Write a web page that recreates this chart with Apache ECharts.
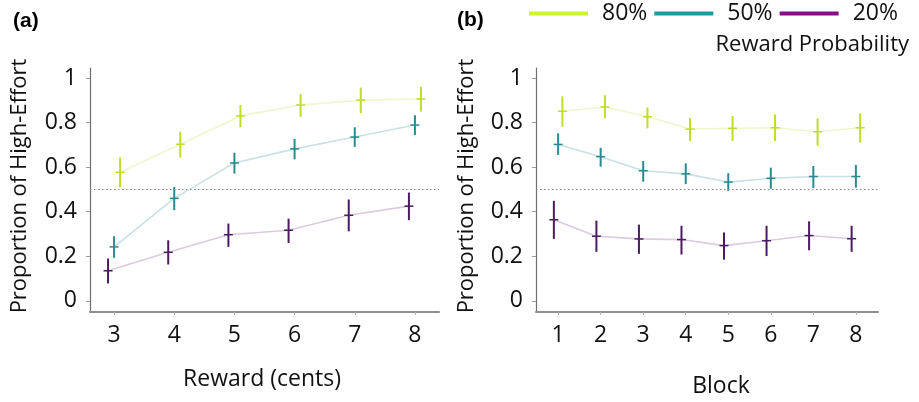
<!DOCTYPE html>
<html>
<head>
<meta charset="utf-8">
<script src="https://cdn.jsdelivr.net/npm/echarts@6/dist/echarts.min.js"></script>
<style>html,body{margin:0;padding:0;background:#fff;}#c{width:919px;height:402px;}</style>
</head>
<body>
<div id="c"></div>
<script>
// ---- Data ----
const rewardCats = [3, 4, 5, 6, 7, 8];
const blockCats = [1, 2, 3, 4, 5, 6, 7, 8];
const yTicks = [0, 0.2, 0.4, 0.6, 0.8, 1];
const groups = ['80%', '50%', '20%'];

// Panel (a): by reward
const a80 = [0.577, 0.703, 0.830, 0.879, 0.901, 0.906];
const a80lo = [0.510, 0.643, 0.779, 0.826, 0.842, 0.849];
const a80hi = [0.643, 0.759, 0.879, 0.928, 0.957, 0.961];
const a50 = [0.242, 0.460, 0.619, 0.682, 0.735, 0.789];
const a50lo = [0.193, 0.407, 0.571, 0.635, 0.691, 0.744];
const a50hi = [0.290, 0.511, 0.665, 0.726, 0.779, 0.833];
const a20 = [0.135, 0.218, 0.297, 0.317, 0.384, 0.425];
const a20lo = [0.078, 0.163, 0.242, 0.260, 0.312, 0.362];
const a20hi = [0.190, 0.272, 0.347, 0.369, 0.455, 0.486];

// Panel (b): by block
const b80 = [0.851, 0.870, 0.826, 0.771, 0.774, 0.777, 0.759, 0.777];
const b80lo = [0.781, 0.819, 0.774, 0.717, 0.717, 0.717, 0.696, 0.710];
const b80hi = [0.918, 0.923, 0.868, 0.821, 0.830, 0.836, 0.819, 0.841];
const b50 = [0.702, 0.647, 0.584, 0.570, 0.533, 0.550, 0.558, 0.558];
const b50lo = [0.655, 0.602, 0.535, 0.524, 0.494, 0.503, 0.506, 0.508];
const b50hi = [0.752, 0.687, 0.628, 0.617, 0.573, 0.598, 0.605, 0.610];
const b20 = [0.364, 0.290, 0.278, 0.275, 0.248, 0.270, 0.293, 0.279];
const b20lo = [0.278, 0.220, 0.211, 0.208, 0.185, 0.201, 0.227, 0.220];
const b20hi = [0.449, 0.360, 0.342, 0.337, 0.307, 0.337, 0.357, 0.337];

const chanceLevel = 0.5;

// ---- Styles ----
const FONT = '"Open Sans"';
const FS = 23;
const markColor = {'80%': '#c0de25', '50%': '#2a8a90', '20%': '#4b1a60'};
const lineColor = {'80%': '#eef6cf', '50%': '#c9e1e5', '20%': '#dacbdf'};
const legendColor = {'80%': '#ccf52e', '50%': '#1a9c9c', '20%': '#860c88'};
const dodge = {'80%': 0.1, '50%': 0, '20%': -0.1};
const axisGray = '#8f8f8f';

const panelA = {'80%': [a80, a80lo, a80hi], '50%': [a50, a50lo, a50hi], '20%': [a20, a20lo, a20hi]};
const panelB = {'80%': [b80, b80lo, b80hi], '50%': [b50, b50lo, b50hi], '20%': [b20, b20lo, b20hi]};

function errRender(g) {
  return function (params, api) {
    const x = api.value(0) + dodge[g];
    const c = api.coord([x, api.value(1)]);
    const lo = api.coord([x, api.value(2)]);
    const hi = api.coord([x, api.value(3)]);
    const col = markColor[g];
    return {
      type: 'group',
      children: [
        {type: 'line', shape: {x1: c[0], y1: lo[1], x2: c[0], y2: hi[1]}, style: {stroke: col, lineWidth: 2}},
        {type: 'line', shape: {x1: c[0] - 4.5, y1: c[1], x2: c[0] + 4.5, y2: c[1]}, style: {stroke: col, lineWidth: 1.5}}
      ]
    };
  };
}

const series = [];
function addPanel(idx, cats, panel) {
  groups.forEach((g, gi) => {
    const [m, lo, hi] = panel[g];
    series.push({
      type: 'line', name: g, xAxisIndex: idx, yAxisIndex: idx,
      data: cats.map((c, i) => [c + dodge[g], m[i]]),
      showSymbol: false, symbol: 'none', silent: true,
      lineStyle: {color: lineColor[g], width: 1.6},
      itemStyle: {color: legendColor[g]},
      z: 2,
      markLine: gi === 0 ? {
        silent: true, symbol: 'none', label: {show: false},
        lineStyle: {color: '#8a8a8a', type: [1.5, 2.5], width: 1.2},
        data: [{yAxis: chanceLevel}]
      } : undefined
    });
    series.push({
      type: 'custom', name: g + ' err', xAxisIndex: idx, yAxisIndex: idx,
      data: cats.map((c, i) => [c, m[i], lo[i], hi[i]]),
      encode: {x: 0, y: [1, 2, 3]},
      renderItem: errRender(g), silent: true, z: 3
    });
  });
}
addPanel(0, rewardCats, panelA);
addPanel(1, blockCats, panelB);

function xAxis(idx, min, max, cats) {
  return {
    type: 'value', gridIndex: idx, min: min, max: max,
    axisLine: {show: true, onZero: false, lineStyle: {color: axisGray, width: 2}},
    axisTick: {show: true, customValues: cats, length: 3, lineStyle: {color: '#b0b0b0'}},
    axisLabel: {customValues: cats, color: '#111', fontFamily: FONT, fontSize: FS, margin: 12},
    splitLine: {show: false}
  };
}
function yAxis(idx) {
  return {
    type: 'value', gridIndex: idx, min: -0.05, max: 1.045,
    axisLine: {show: true, onZero: false, lineStyle: {color: '#6f6f6f', width: 1.2}},
    axisTick: {show: true, customValues: yTicks, length: 4, lineStyle: {color: '#9a9a9a'}},
    axisLabel: {customValues: yTicks, color: '#111', fontFamily: FONT, fontSize: FS, margin: 13,
      formatter: v => String(Math.round(v * 10) / 10)},
    splitLine: {show: false}
  };
}

const chart = echarts.init(document.getElementById('c'), null, {renderer: 'canvas'});
chart.setOption({
  backgroundColor: '#fff',
  animation: false,
  grid: [
    {left: 90, top: 68, width: 349, height: 244},
    {left: 536, top: 68, width: 342, height: 244}
  ],
  xAxis: [xAxis(0, 2.6, 8.4, rewardCats), xAxis(1, 0.48, 8.52, blockCats)],
  yAxis: [yAxis(0), yAxis(1)],
  legend: {
    left: 529, top: 2, padding: 0, itemWidth: 59, itemHeight: 4, itemGap: 7, icon: 'rect',
    data: groups.map(g => ({name: g, itemStyle: {color: legendColor[g]}})),
    textStyle: {fontFamily: FONT, fontSize: FS, color: '#111', padding: [0, 0, 0, 9]},
    selectedMode: false
  },
  graphic: [
    {type: 'text', left: 13, top: 11, style: {text: '(a)', fontFamily: 'Liberation Sans', fontWeight: 'bold', fontSize: 21, fill: '#000'}},
    {type: 'text', left: 457, top: 10, style: {text: '(b)', fontFamily: 'Liberation Sans', fontWeight: 'bold', fontSize: 21, fill: '#000'}},
    {type: 'text', x: 909, y: 45, style: {text: 'Reward Probability', fontFamily: FONT, fontSize: 22, fill: '#111', align: 'right', verticalAlign: 'middle'}},
    {type: 'text', x: 20, y: 186, rotation: Math.PI / 2, style: {text: 'Proportion of High-Effort', fontFamily: FONT, fontSize: 22, fill: '#111', align: 'center', verticalAlign: 'middle'}},
    {type: 'text', x: 467, y: 186, rotation: Math.PI / 2, style: {text: 'Proportion of High-Effort', fontFamily: FONT, fontSize: 22, fill: '#111', align: 'center', verticalAlign: 'middle'}},
    {type: 'text', x: 262, y: 379, style: {text: 'Reward (cents)', fontFamily: FONT, fontSize: FS, fill: '#111', align: 'center', verticalAlign: 'middle'}},
    {type: 'text', x: 721, y: 386, style: {text: 'Block', fontFamily: FONT, fontSize: FS, fill: '#111', align: 'center', verticalAlign: 'middle'}}
  ],
  series: series
});
</script>
</body>
</html>
